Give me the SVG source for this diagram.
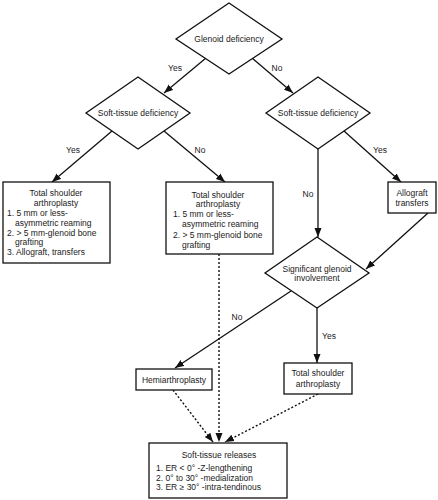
<svg xmlns="http://www.w3.org/2000/svg" width="438" height="500" viewBox="0 0 438 500">
<defs>
<marker id="ah" markerUnits="userSpaceOnUse" markerWidth="10" markerHeight="8" refX="9" refY="4" orient="auto">
<path d="M0,0.5 L9,4 L0,7.5 Z" fill="#111"/>
</marker>
<style>
.shape{fill:#fff;stroke:#111;stroke-width:1.3}
.ln{fill:none;stroke:#111;stroke-width:1.3}
.dash{fill:none;stroke:#111;stroke-width:1.4;stroke-dasharray:2 2}
text{font-family:"Liberation Sans",Arial,sans-serif;font-size:8.5px;fill:#1a1a1a}
.c{text-anchor:middle}
</style>
</defs>
<rect width="438" height="500" fill="#fff"/>
<g id="connectors">
<line class="ln" x1="206" y1="58" x2="164" y2="93" marker-end="url(#ah)"/>
<line class="ln" x1="252" y1="58" x2="293" y2="93" marker-end="url(#ah)"/>
<line class="ln" x1="112" y1="131" x2="52" y2="182" marker-end="url(#ah)"/>
<line class="ln" x1="164" y1="131" x2="225" y2="182" marker-end="url(#ah)"/>
<line class="ln" x1="344" y1="131" x2="401" y2="182" marker-end="url(#ah)"/>
<line class="ln" x1="318" y1="149" x2="318" y2="237" marker-end="url(#ah)"/>
<line class="ln" x1="428" y1="213" x2="366" y2="269" marker-end="url(#ah)"/>
<line class="ln" x1="291" y1="291" x2="175" y2="368" marker-end="url(#ah)"/>
<line class="ln" x1="317" y1="308" x2="317" y2="363" marker-end="url(#ah)"/>
<line class="dash" x1="219" y1="254" x2="219" y2="442" marker-end="url(#ah)"/>
<line class="dash" x1="173" y1="390" x2="213" y2="442" marker-end="url(#ah)"/>
<line class="dash" x1="318" y1="394" x2="225" y2="442" marker-end="url(#ah)"/>
<text class="c" x="175" y="71">Yes</text>
<text class="c" x="277" y="71">No</text>
<text class="c" x="73" y="153">Yes</text>
<text class="c" x="200" y="153">No</text>
<text class="c" x="380" y="153">Yes</text>
<text class="c" x="308" y="197">No</text>
<text class="c" x="237" y="320">No</text>
<text class="c" x="329" y="339">Yes</text>
</g>
<g id="glenoid">
<polygon class="shape" points="229,3 282,39 229,74 176,39"/>
<text class="c" x="229" y="42">Glenoid deficiency</text>
</g>
<g id="soft-left">
<polygon class="shape" points="138,77 190,113 138,149 86,113"/>
<text class="c" x="138" y="116">Soft-tissue deficiency</text>
</g>
<g id="soft-right">
<polygon class="shape" points="318,77 370,113 318,149 266,113"/>
<text class="c" x="318" y="116">Soft-tissue deficiency</text>
</g>
<g id="tsa-1">
<rect class="shape" x="3" y="182" width="107" height="81"/>
<text class="c" x="56" y="196">Total shoulder</text>
<text class="c" x="56" y="206">arthroplasty</text>
<text x="7" y="216">1. 5 mm or less-</text>
<text x="15" y="226">asymmetric reaming</text>
<text x="7" y="236">2. &gt; 5 mm-glenoid bone</text>
<text x="15" y="245">grafting</text>
<text x="7" y="255">3. Allograft, transfers</text>
</g>
<g id="tsa-2">
<rect class="shape" x="166" y="182" width="107" height="72"/>
<text class="c" x="218" y="198">Total shoulder</text>
<text class="c" x="218" y="207">arthroplasty</text>
<text x="173" y="217">1. 5 mm or less-</text>
<text x="182" y="227">asymmetric reaming</text>
<text x="173" y="238">2. &gt; 5 mm-glenoid bone</text>
<text x="182" y="248">grafting</text>
</g>
<g id="allograft">
<rect class="shape" x="388" y="182" width="48" height="31"/>
<text class="c" x="412" y="196">Allograft</text>
<text class="c" x="412" y="206">transfers</text>
</g>
<g id="significant">
<polygon class="shape" points="317,237 369,273 317,308 265,273"/>
<text class="c" x="317" y="272">Significant glenoid</text>
<text class="c" x="317" y="281">involvement</text>
</g>
<g id="hemi">
<rect class="shape" x="136" y="369" width="76" height="21"/>
<text class="c" x="174" y="383">Hemiarthroplasty</text>
</g>
<g id="tsa-3">
<rect class="shape" x="284" y="363" width="68" height="31"/>
<text class="c" x="318" y="376">Total shoulder</text>
<text class="c" x="318" y="387">arthroplasty</text>
</g>
<g id="releases">
<rect class="shape" x="149" y="443" width="138" height="55"/>
<text class="c" x="219" y="458">Soft-tissue releases</text>
<text x="156" y="471">1. ER &lt; 0° -Z-lengthening</text>
<text x="156" y="481">2. 0° to 30° -medialization</text>
<text x="156" y="490">3. ER ≥ 30° -intra-tendinous</text>
</g>
</svg>
